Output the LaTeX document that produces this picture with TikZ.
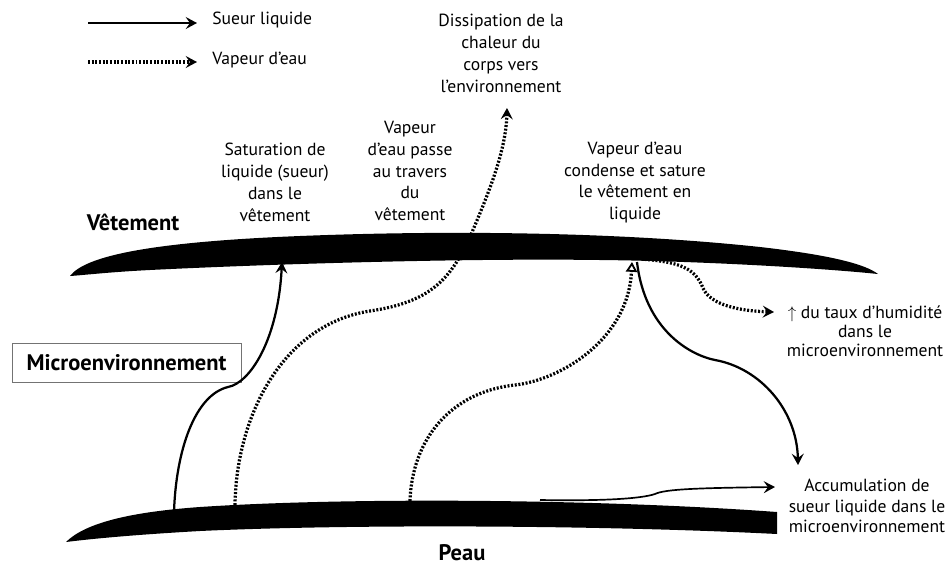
\documentclass[tikz,border=0pt]{standalone}
\usepackage{fontspec}
\setmainfont{PT Sans}
\usepackage{tikz}
\usetikzlibrary{arrows.meta,positioning}
\tikzset{
  % Text labels
  lbl/.style={align=center,font=\fontsize{12.5}{15.6}\selectfont,inner sep=0pt},
  blbl/.style={font=\fontsize{16}{18}\selectfont\bfseries,inner sep=0pt},
  % Liquid sweat (solid) and vapour (dotted)
  liq/.style={-{Stealth[length=8pt,width=8.5pt,inset=3pt]},line width=1.6pt},
  vap/.style={-{Stealth[length=8pt,width=8.5pt,inset=3pt]},line width=2.3pt,
              dash pattern=on 1.4pt off 1.2pt},
  % Layers
  band/.style={fill=black}
}
\begin{document}
\begin{tikzpicture}[x=0.025cm,y=-0.025cm]
  \useasboundingbox (0,0) rectangle (949,568);

  % legend
  \coordinate (lg1a) at (88,23);  \coordinate (lg1b) at (197,23);
  \coordinate (lg2a) at (88,62);  \coordinate (lg2b) at (197,62);
  \node[lbl,anchor=west] (lgliq) at (212,20) {Sueur liquide};
  \node[lbl,anchor=west] (lgvap) at (212,60) {Vapeur d’eau};
  \draw[liq] (lg1a) -- (lg1b);
  \draw[vap] (lg2a) -- (lg2b);

  % labels
  \node[blbl] (vet)  at (133,222) {Vêtement};
  \node[blbl,draw=black!55,line width=0.7pt,minimum width=229*0.025cm,
        minimum height=39*0.025cm] (micro) at (126.5,362.5) {Microenvironnement};
  \node[blbl] (peau) at (462,553) {Peau};
  \node[lbl] (dis)  at (501,53)    {Dissipation de la\\chaleur du\\corps vers\\l’environnement};
  \node[lbl] (sat)  at (275,182.5) {Saturation de\\liquide (sueur)\\dans le\\vêtement};
  \node[lbl] (pas)  at (410,171)   {Vapeur\\d’eau passe\\au travers\\du\\vêtement};
  \node[lbl] (cond) at (635,182.5) {Vapeur d’eau\\condense et sature\\le vêtement en\\liquide};
  \node[lbl,font=\fontsize{12.5}{13.6}\selectfont] (hum) at (865,331)
        {$\uparrow$ du taux d’humidité\\dans le\\microenvironnement};
  \node[lbl,font=\fontsize{12.5}{14.8}\selectfont] (acc) at (867,506)
        {Accumulation de\\sueur liquide dans le\\microenvironnement};

  % end points
  \coordinate (s1) at (174,512);  \coordinate (c1) at (282,262);
  \coordinate (v1) at (235,505);  \coordinate (dt) at (507,108);
  \coordinate (v2) at (410,501);  \coordinate (c2) at (632,262);
  \coordinate (c3) at (637,262);  \coordinate (at) at (798,465);
  \coordinate (c4) at (641,259);  \coordinate (ht) at (774,312);
  \coordinate (s2) at (540,500);  \coordinate (st) at (775,487);

  % flows
  \draw[liq] (s1) .. controls (176,450) and (195,395) .. (228,387)
                  .. controls (250,383) and (278,340) .. (c1);
  \draw[vap] (v1) .. controls (236,420) and (280,325) .. (370,311)
                  .. controls (430,302) and (450,280) .. (470,237)
                  .. controls (490,190) and (506,150) .. (dt);
  \draw[vap,-{Triangle[open,length=7pt,width=8pt,line width=1.3pt]}]
             (v2) .. controls (412,440) and (450,392) .. (515,385)
                  .. controls (560,380) and (628,340) .. (c2);
  \draw[liq] (c3) .. controls (645,330) and (690,355) .. (715,360)
                  .. controls (760,368) and (797,410) .. (at);
  \draw[vap] (c4) .. controls (680,262) and (695,268) .. (703,288)
                  .. controls (710,305) and (740,311) .. (ht);
  \draw[liq,line width=1.2pt] (s2) .. controls (600,501) and (640,499) .. (655,494)
                  .. controls (665,489) and (700,488) .. (st);

  % clothing and skin
  \fill[band] (70,276) .. controls (85,256) and (150,242) .. (300,236)
              .. controls (450,230) and (620,232) .. (760,247)
              .. controls (830,255) and (865,264) .. (878,274)
              .. controls (820,268) and (700,261) .. (600,260)
              .. controls (450,258) and (250,265) .. (150,270)
              .. controls (110,272) and (85,275) .. cycle;
  \fill[band] (66,542) .. controls (85,523) and (130,512) .. (200,507)
              .. controls (350,497) and (600,499) .. (777,512)
              -- (777,534)
              .. controls (600,525) and (350,524) .. (200,531)
              .. controls (130,535) and (90,539) .. cycle;
\end{tikzpicture}
\end{document}
